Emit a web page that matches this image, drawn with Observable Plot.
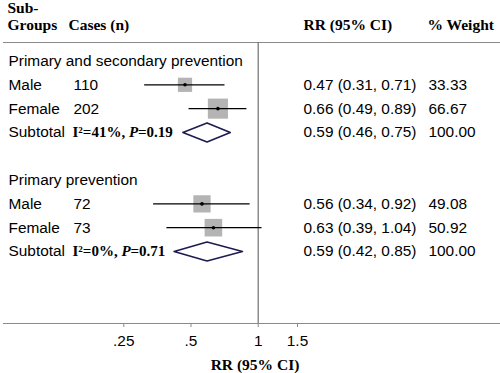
<!DOCTYPE html>
<html><head><meta charset="utf-8">
<script src="https://cdn.jsdelivr.net/npm/d3@7"></script>
<script src="https://cdn.jsdelivr.net/npm/@observablehq/plot@0.6"></script>
<style>body{margin:0;background:#fff}</style>
</head><body><div id="chart"></div>
<script>
// ---- data ----
const groups = ["Primary and secondary prevention", "Primary prevention"];
const sexes = ["Male", "Female"];
const cases = [[110, 202], [72, 73]];
const rr = [[0.47, 0.66], [0.56, 0.63]];
const ciLow = [[0.31, 0.49], [0.34, 0.39]];
const ciHigh = [[0.71, 0.89], [0.92, 1.04]];
const weights = [[33.33, 66.67], [49.08, 50.92]];
const subRR = [0.59, 0.59];
const subLow = [0.46, 0.42];
const subHigh = [0.75, 0.85];
const heterogeneity = ["I²=41%, P=0.19", "I²=0%, P=0.71"];
const subWeight = ["100.00", "100.00"];
const nullValue = [1];
const xTicks = [0.25, 0.5, 1, 1.5];
const xTickLabels = [".25", ".5", "1", "1.5"];

// ---- tables ----
const f2 = d3.format(".2f");
const titles = [], studies = [], subtotals = [], diamond = [];
groups.forEach((g, gi) => {
  const base = gi * 5;
  titles.push({row: base, label: g});
  sexes.forEach((s, si) => {
    studies.push({
      row: base + 1 + si, label: s, cases: String(cases[gi][si]),
      rr: rr[gi][si], lo: ciLow[gi][si], hi: ciHigh[gi][si], w: weights[gi][si],
      txt: `${f2(rr[gi][si])} (${f2(ciLow[gi][si])}, ${f2(ciHigh[gi][si])})`,
      wtxt: f2(weights[gi][si])
    });
  });
  const r = base + 3;
  subtotals.push({row: r, label: "Subtotal", het: heterogeneity[gi],
    txt: `${f2(subRR[gi])} (${f2(subLow[gi])}, ${f2(subHigh[gi])})`, wtxt: subWeight[gi]});
  const h = 0.4;
  [[subLow[gi], r], [subRR[gi], r - h], [subHigh[gi], r], [subRR[gi], r + h], [subLow[gi], r]]
    .forEach(([x, y]) => diamond.push({g: gi, x, y}));
});
const leftRows = [...studies, ...subtotals];

const sans = "'Liberation Sans', Arial, sans-serif";
const serif = "'Liberation Serif', 'Times New Roman', serif";
const fs = 15.4;
const lineGray = "#8a8a8a";

const plot = Plot.plot({
  width: 500, height: 373,
  marginTop: 42, marginBottom: 50, marginLeft: 3, marginRight: 0,
  style: {fontFamily: sans, fontSize: fs + "px", background: "#fff", color: "#000"},
  x: {type: "log", domain: [0.25, 1.5], range: [123.3, 297.0]},
  y: {domain: [0, 8], range: [60.5, 251], axis: null},
  r: {type: "sqrt", domain: [0, 100], range: [0, 13.9]},
  marks: [
    Plot.frame({anchor: "top", stroke: lineGray}),
    Plot.frame({anchor: "bottom", stroke: lineGray}),
    Plot.ruleX(nullValue, {stroke: "#707070", strokeWidth: 1.2}),
    Plot.axisX({ticks: xTicks, tickFormat: (d) => xTickLabels[xTicks.indexOf(d)],
      tickSize: 4, tickPadding: 8, stroke: lineGray, fontSize: fs, label: null}),
    // header
    Plot.text(["Sub-"], {frameAnchor: "top-left", dx: 4, dy: -34, textAnchor: "start", lineAnchor: "middle",
      fontFamily: serif, fontWeight: "bold", fontSize: 15.5}),
    Plot.text(["Groups"], {frameAnchor: "top-left", dx: 4, dy: -17, textAnchor: "start", lineAnchor: "middle",
      fontFamily: serif, fontWeight: "bold", fontSize: 15.5}),
    Plot.text(["Cases (n)"], {frameAnchor: "top-left", dx: 65, dy: -17, textAnchor: "start", lineAnchor: "middle",
      fontFamily: serif, fontWeight: "bold", fontSize: 15.5}),
    Plot.text(["RR (95% CI)"], {frameAnchor: "top-left", dx: 300, dy: -17, textAnchor: "start", lineAnchor: "middle",
      fontFamily: serif, fontWeight: "bold", fontSize: 15.5}),
    Plot.text(["% Weight"], {frameAnchor: "top-left", dx: 424, dy: -17, textAnchor: "start", lineAnchor: "middle",
      fontFamily: serif, fontWeight: "bold", fontSize: 15.5}),
    // axis title
    Plot.text(["RR (95% CI)"], {frameAnchor: "bottom", dx: 3, dy: 42, lineAnchor: "middle",
      fontFamily: serif, fontWeight: "bold", fontSize: 15.5}),
    // left text columns
    Plot.text(titles, {y: "row", text: "label", frameAnchor: "left", dx: 5, textAnchor: "start"}),
    Plot.text(leftRows, {y: "row", text: "label", frameAnchor: "left", dx: 5, textAnchor: "start"}),
    Plot.text(studies, {y: "row", text: "cases", frameAnchor: "left", dx: 70, textAnchor: "start"}),
    Plot.text(subtotals, {y: "row", text: "het", frameAnchor: "left", dx: 69, textAnchor: "start",
      fontFamily: serif, fontWeight: "bold", fontSize: 15, className: "het"}),
    // right text columns
    Plot.text(leftRows, {y: "row", text: "txt", frameAnchor: "left", dx: 300, textAnchor: "start"}),
    Plot.text(leftRows, {y: "row", text: "wtxt", frameAnchor: "left", dx: 425, textAnchor: "start"}),
    // marks
    Plot.dot(studies, {x: "rr", y: "row", r: "w", symbol: "square", fill: "#b4b4b4", stroke: "none"}),
    Plot.ruleY(studies, {y: "row", x1: "lo", x2: "hi", stroke: "#000", strokeWidth: 1.3}),
    Plot.dot(studies, {x: "rr", y: "row", r: 1.8, fill: "#000", stroke: "none"}),
    Plot.line(diamond, {x: "x", y: "y", z: "g", stroke: "#1c1c50", strokeWidth: 1.6, curve: "linear"})
  ]
});

// italic P in heterogeneity labels
plot.querySelectorAll(".het text").forEach((t) => {
  const s = t.textContent;
  const i = s.indexOf("P=");
  if (i < 0) return;
  t.textContent = "";
  t.appendChild(document.createTextNode(s.slice(0, i)));
  const ts = document.createElementNS("http://www.w3.org/2000/svg", "tspan");
  ts.setAttribute("font-style", "italic");
  ts.textContent = "P";
  t.appendChild(ts);
  t.appendChild(document.createTextNode(s.slice(i + 1)));
});

document.getElementById("chart").appendChild(plot);
</script>
</body></html>
